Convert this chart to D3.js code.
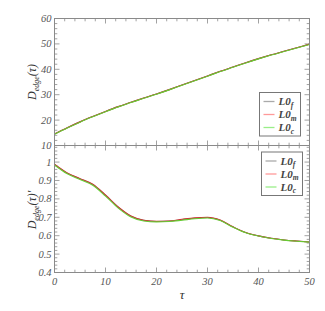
<!DOCTYPE html>
<html><head><meta charset="utf-8">
<script src="https://cdn.jsdelivr.net/npm/d3@7"></script>
<style>body{margin:0;background:#fff}svg{display:block}text{font-family:"Liberation Serif","DejaVu Serif",serif;font-style:italic}</style>
</head><body>
<svg id="c" width="325" height="311"></svg>
<script>
const tau = [0,2.5,5,7.5,10,12.5,15,17.5,20,22.5,25,27.5,30,32.5,35,37.5,40,42.5,45,47.5,50];
const topF = [14.5,17.0,19.3,21.4,23.4,25.3,27.0,28.7,30.3,32.0,33.8,35.6,37.4,39.2,40.9,42.6,44.2,45.7,47.1,48.5,49.9];
const topM = [14.5,17.0,19.3,21.4,23.4,25.3,27.0,28.7,30.3,32.0,33.8,35.6,37.4,39.2,40.9,42.6,44.2,45.7,47.1,48.5,49.9];
const topC = [14.4,16.9,19.2,21.3,23.3,25.2,26.9,28.6,30.2,31.9,33.7,35.5,37.3,39.1,40.8,42.5,44.1,45.6,47.0,48.4,49.8];
const botF = [0.987,0.940,0.909,0.878,0.820,0.755,0.706,0.683,0.677,0.679,0.687,0.695,0.699,0.684,0.648,0.617,0.599,0.586,0.577,0.571,0.566];
const botM = [0.988,0.941,0.910,0.879,0.821,0.756,0.707,0.684,0.678,0.680,0.689,0.697,0.700,0.685,0.648,0.617,0.599,0.586,0.577,0.571,0.566];
const botC = [0.984,0.936,0.905,0.874,0.815,0.750,0.702,0.680,0.675,0.677,0.684,0.692,0.696,0.682,0.646,0.616,0.598,0.585,0.576,0.570,0.565];
const xTicks = [0,10,20,30,40,50];
const topTicks = [10,20,30,40,50,60];
const botTicks = [0.4,0.5,0.6,0.7,0.8,0.9,1];
const seriesNames = ["f","m","c"];

const svg = d3.select("#c");
const L = 54.5, R = 309.5, T1 = 18.5, M = 145.5, B2 = 272.5;
const x = d3.scaleLinear().domain([0,50]).range([L,R]);
const y1 = d3.scaleLinear().domain([10,60]).range([M,T1]);
const y2 = d3.scaleLinear().domain([0.4,1.09]).range([B2,M]);
const frame = "#8a8a8a", txt = "#555";

function ticksPanel(y, top, bot, major, minorStep, lo, hi) {
  const g = svg.append("g").attr("stroke", frame).attr("stroke-width", 0.8);
  d3.range(0, 50.001, 2).forEach(v => {
    const big = Math.abs(v % 10) < 1e-6;
    const len = big ? 5 : 2.8;
    g.append("line").attr("x1", x(v)).attr("x2", x(v)).attr("y1", bot).attr("y2", bot - len);
    g.append("line").attr("x1", x(v)).attr("x2", x(v)).attr("y1", top).attr("y2", top + len);
  });
  d3.range(lo, hi + 1e-9, minorStep).forEach(v => {
    const big = major.some(m => Math.abs(m - v) < 1e-6);
    const len = big ? 5 : 2.8;
    g.append("line").attr("x1", L).attr("x2", L + len).attr("y1", y(v)).attr("y2", y(v));
    g.append("line").attr("x1", R).attr("x2", R - len).attr("y1", y(v)).attr("y2", y(v));
  });
}
ticksPanel(y1, T1, M, topTicks, 2, 10, 60);
ticksPanel(y2, M, B2, botTicks, 0.02, 0.4, 1.08);

const line1 = d3.line().x((d,i)=>x(tau[i])).y(d=>y1(d)).curve(d3.curveMonotoneX);
const line2 = d3.line().x((d,i)=>x(tau[i])).y(d=>y2(d)).curve(d3.curveMonotoneX);
const lineColors = ["#888888","#cc3333","#66cc33"];
[topF, topM, topC].forEach((s,i)=> svg.append("path").attr("d", line1(s)).attr("fill","none").attr("stroke", lineColors[i]).attr("stroke-width",1.1));
[botF, botM, botC].forEach((s,i)=> svg.append("path").attr("d", line2(s)).attr("fill","none").attr("stroke", lineColors[i]).attr("stroke-width",1.1));

svg.append("rect").attr("x",L).attr("y",T1).attr("width",R-L).attr("height",M-T1).attr("fill","none").attr("stroke",frame).attr("stroke-width",1);
svg.append("rect").attr("x",L).attr("y",M).attr("width",R-L).attr("height",B2-M).attr("fill","none").attr("stroke",frame).attr("stroke-width",1);

const lab = svg.append("g").attr("font-size",10.5).attr("fill",txt);
topTicks.forEach(v => lab.append("text").attr("x", L-3).attr("y", y1(v)+3.5).attr("text-anchor","end").text(v));
botTicks.forEach(v => lab.append("text").attr("x", L-3).attr("y", y2(v)+3.5).attr("text-anchor","end").text(v));
xTicks.forEach(v => lab.append("text").attr("x", x(v)).attr("y", B2+12).attr("text-anchor","middle").text(v));

svg.append("text").attr("x", x(25)).attr("y", 299).attr("text-anchor","middle").attr("font-size",13).attr("fill","#333").text("τ");
function ytitle(cx, cy, prime) {
  const t = svg.append("text").attr("transform",`translate(${cx},${cy}) rotate(-90)`).attr("text-anchor","middle")
    .attr("font-size",12).attr("fill","#333");
  t.append("tspan").text("D");
  t.append("tspan").attr("font-size",8).attr("dy",2.5).text("edge");
  t.append("tspan").attr("dy",-2.5).text("(τ)" + (prime ? "′" : ""));
}
ytitle(36, 82, false);
ytitle(36, 210, true);

const legColors = ["#aaaaaa","#ff9999","#99ee88"];
function legend(x0, y0) {
  const g = svg.append("g");
  g.append("rect").attr("x",x0).attr("y",y0).attr("width",41).attr("height",43.5).attr("fill","#fff").attr("stroke","#777").attr("stroke-width",1);
  seriesNames.forEach((n,i) => {
    const yy = y0 + 9 + i*13;
    g.append("line").attr("x1",x0+4).attr("x2",x0+15).attr("y1",yy).attr("y2",yy).attr("stroke",legColors[i]).attr("stroke-width",1.3);
    const t = g.append("text").attr("x",x0+19).attr("y",yy+3.5).attr("font-weight","bold").attr("font-size",11).attr("fill","#444");
    t.append("tspan").text("L0");
    t.append("tspan").attr("font-size",7.5).attr("dy",2.5).text(n);
  });
}
legend(259.5, 92.5);
legend(261.5, 152);
</script>
</body></html>
